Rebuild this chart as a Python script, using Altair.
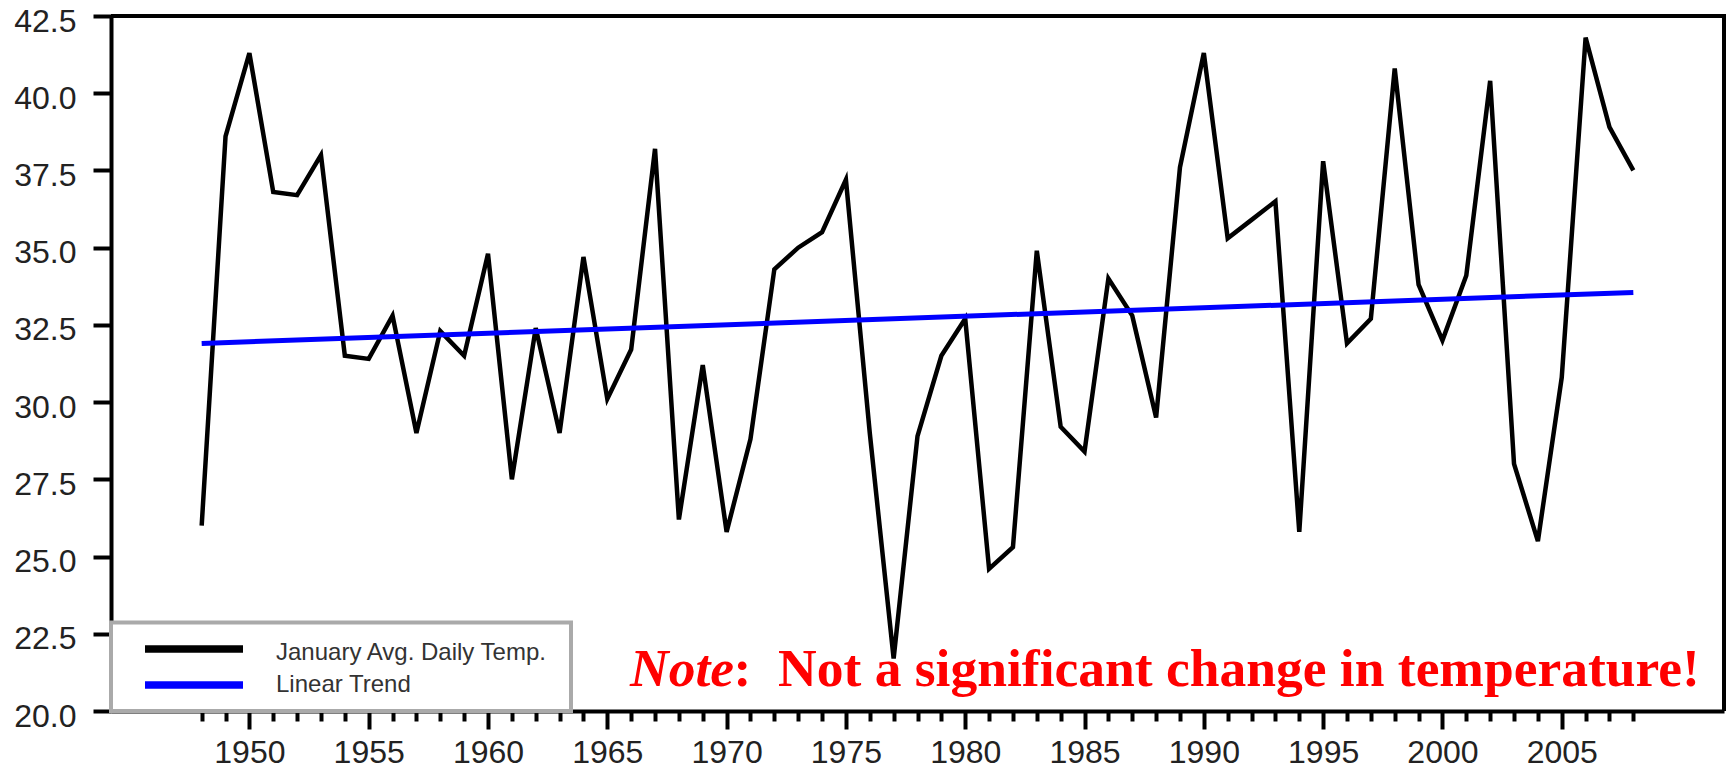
import altair as alt
import pandas as pd

# ---- data ----
years = list(range(1948, 2009))
temps = [26.0, 38.6, 41.3, 36.8, 36.7, 38.0, 31.5, 31.4, 32.8, 29.0,
         32.3, 31.5, 34.8, 27.5, 32.4, 29.0, 34.7, 30.1, 31.7, 38.2,
         26.2, 31.2, 25.8, 28.8, 34.3, 35.0, 35.5, 37.2, 29.0, 21.7,
         28.9, 31.5, 32.7, 24.6, 25.3, 34.9, 29.2, 28.4, 34.0, 32.8,
         29.5, 37.6, 41.3, 35.3, 35.9, 36.5, 25.8, 37.8, 31.9, 32.7,
         40.8, 33.8, 32.0, 34.1, 40.4, 28.0, 25.5, 30.8, 41.8, 38.9,
         37.5]
trend_years = [1948, 2008]
trend_vals = [31.9, 33.55]
y_tick_values = [20.0, 22.5, 25.0, 27.5, 30.0, 32.5, 35.0, 37.5, 40.0, 42.5]
x_tick_values = years
legend_labels = ["January Avg. Daily Temp.", "Linear Trend"]
note_lead = "Note"
note_rest = ":\u00a0\u00a0Not a significant change in temperature!"

W, H = 1613, 695

df = pd.DataFrame({"year": years, "temp": temps})
trend_df = pd.DataFrame({"year": trend_years, "temp": trend_vals})

x_scale = alt.Scale(domain=[1944.2, 2011.8], nice=False, zero=False)
y_scale = alt.Scale(domain=[20, 42.5], nice=False, zero=False)

x_axis = alt.Axis(
    values=x_tick_values,
    tickSize=alt.ExprRef(expr="datum.value % 5 === 0 ? 18 : 10"),
    labelExpr="datum.value % 5 === 0 ? datum.label : ''",
    format="d",
    labelOverlap=False,
    labelBound=False,
    labelFlush=False,
    title=None,
    grid=False,
    domainColor="black",
    domainWidth=4,
    tickColor="black",
    tickWidth=4,
    labelFont="Liberation Sans",
    labelFontSize=32,
    labelColor="#222222",
    labelPadding=8,
)
y_axis = alt.Axis(
    values=y_tick_values,
    format=".1f",
    title=None,
    grid=False,
    domainColor="black",
    domainWidth=4,
    tickColor="black",
    tickWidth=4,
    tickSize=18,
    labelFont="Liberation Sans",
    labelFontSize=32,
    labelColor="#222222",
    labelPadding=17,
    labelOffset=5,
    labelOverlap=False,
    labelBound=False,
    labelFlush=False,
)

data_line = alt.Chart(df).mark_line(color="black", strokeWidth=4.5, strokeJoin="miter").encode(
    x=alt.X("year:Q", scale=x_scale, axis=x_axis),
    y=alt.Y("temp:Q", scale=y_scale, axis=y_axis),
)
trend_line = alt.Chart(trend_df).mark_line(color="#0000ff", strokeWidth=5).encode(
    x=alt.X("year:Q", scale=x_scale, axis=x_axis),
    y=alt.Y("temp:Q", scale=y_scale, axis=y_axis),
)

one = alt.Data(values=[{}])

legend_box = alt.Chart(one).mark_rect(fill="white", stroke="#aaaaaa", strokeWidth=4).encode(
    x=alt.value(0), x2=alt.value(460), y=alt.value(606.5), y2=alt.value(695)
)
leg_line1 = alt.Chart(one).mark_rule(color="black", strokeWidth=7.5).encode(
    x=alt.value(34), x2=alt.value(132), y=alt.value(633)
)
leg_line2 = alt.Chart(one).mark_rule(color="#0000ff", strokeWidth=7.5).encode(
    x=alt.value(34), x2=alt.value(132), y=alt.value(669)
)
leg_text1 = alt.Chart(one).mark_text(
    text=legend_labels[0], font="Liberation Sans", fontSize=24, color="#333333",
    align="left", baseline="alphabetic"
).encode(x=alt.value(165), y=alt.value(643.5))
leg_text2 = alt.Chart(one).mark_text(
    text=legend_labels[1], font="Liberation Sans", fontSize=24, color="#333333",
    align="left", baseline="alphabetic"
).encode(x=alt.value(165), y=alt.value(676))

note1 = alt.Chart(one).mark_text(
    text=note_lead, font="Liberation Serif", fontSize=53.5, fontWeight="bold",
    fontStyle="italic", color="#ff0000", align="left", baseline="alphabetic"
).encode(x=alt.value(519), y=alt.value(670))
note2 = alt.Chart(one).mark_text(
    text=note_rest, font="Liberation Serif", fontSize=53.5, fontWeight="bold",
    color="#ff0000", align="left", baseline="alphabetic"
).encode(x=alt.value(622.5), y=alt.value(670))

top_border = alt.Chart(one).mark_rule(color="black", strokeWidth=4).encode(
    x=alt.value(0), x2=alt.value(W), y=alt.value(0)
)
right_border = alt.Chart(one).mark_rule(color="black", strokeWidth=4).encode(
    x=alt.value(W), y=alt.value(-2), y2=alt.value(H)
)

chart = alt.layer(
    data_line, trend_line, legend_box, leg_line1, leg_line2, leg_text1, leg_text2,
    note1, note2, top_border, right_border
).properties(
    width=W, height=H,
    padding={"left": 111, "top": 16, "right": 4, "bottom": 60},
    autosize=alt.AutoSizeParams(type="none"),
    background="white",
).configure_view(strokeWidth=0).configure_axis(labelOverlap=False)

chart.save("out.html", embed_options={"renderer": "svg", "actions": False})
